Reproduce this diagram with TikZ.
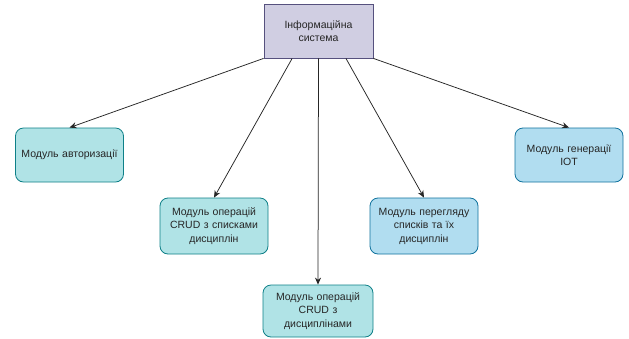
\documentclass[tikz,border=0pt]{standalone}
\usepackage{fontspec}
\setmainfont{Liberation Sans}
\usetikzlibrary{calc,arrows.meta}
\definecolor{rootfill}{HTML}{D0CEE2}
\definecolor{rootline}{HTML}{56517E}
\definecolor{tealfill}{HTML}{B0E3E6}
\definecolor{tealline}{HTML}{0E8088}
\definecolor{bluefill}{HTML}{B1DDF0}
\definecolor{blueline}{HTML}{10739E}
\tikzset{
  base/.style={draw, line width=0.8pt, align=center, font=\fontsize{10.5}{13.5}\selectfont, text=black!85, inner sep=2pt, text width=104pt},
  rootbox/.style={base, fill=rootfill, draw=rootline, minimum width=109pt, minimum height=54pt},
  tealbox/.style={base, fill=tealfill, draw=tealline, rounded corners=8pt, minimum width=108pt, minimum height=54pt},
  bluebox/.style={base, fill=bluefill, draw=blueline, rounded corners=8pt, minimum width=108pt, minimum height=54pt},
  conn/.style={draw=black!85, line width=0.75pt, -{Stealth[length=7pt,width=6pt]}}
}
\begin{document}
\begin{tikzpicture}[x=1pt,y=-1pt]
\useasboundingbox[fill=white] (0,0) rectangle (629,338);
\node[rootbox] (root) at (318.5,31) {Інформаційна\\система};
\node[tealbox] (b1) at (69.5,155) {Модуль авторизації};
\node[tealbox, minimum height=56pt] (b2) at (214,226) {Модуль операцій\\CRUD з списками\\дисциплін};
\node[tealbox, minimum width=110pt, minimum height=52pt] (b3) at (318,311) {Модуль операцій\\CRUD з\\дисциплінами};
\node[bluebox, minimum height=56pt] (b4) at (424,226) {Модуль перегляду\\списків та їх\\дисциплін};
\node[bluebox] (b5) at (569,155) {Модуль генерації\\ІОТ};
\coordinate (s1) at (root.south west);
\coordinate (s2) at ($(root.south west)!0.26!(root.south east)$);
\coordinate (s3) at (root.south);
\coordinate (s4) at ($(root.south west)!0.75!(root.south east)$);
\coordinate (s5) at (root.south east);
\draw[conn] (s1) -- (b1.north);
\draw[conn] (s2) -- (b2.north);
\draw[conn] (s3) -- (b3.north);
\draw[conn] (s4) -- (b4.north);
\draw[conn] (s5) -- (b5.north);
\end{tikzpicture}
\end{document}
